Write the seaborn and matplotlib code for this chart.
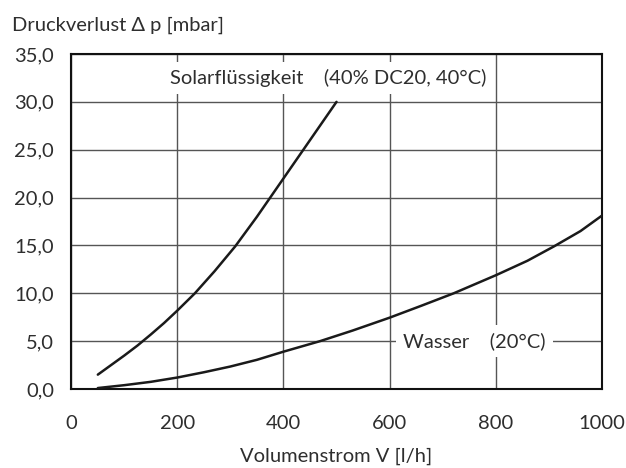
import matplotlib
matplotlib.use("Agg")
import matplotlib.pyplot as plt
import seaborn as sns
import pandas as pd

# flow rate [l/h] vs pressure drop [mbar]
solar_x = [50, 75, 100, 125, 150, 175, 200, 233, 270, 309, 350, 400, 450, 500]
solar_y = [1.5, 2.5, 3.5, 4.55, 5.7, 6.9, 8.2, 10.0, 12.3, 14.9, 18.0, 22.0, 26.0, 30.0]
water_x = [50, 100, 150, 200, 250, 300, 350, 400, 469, 530, 600, 660, 721, 801, 860, 910, 960, 1000]
water_y = [0.1, 0.4, 0.75, 1.2, 1.75, 2.35, 3.05, 3.9, 5.0, 6.1, 7.45, 8.7, 10.0, 11.9, 13.4, 14.9, 16.5, 18.1]

x_ticks = [0, 200, 400, 600, 800, 1000]
y_ticks = [0, 5, 10, 15, 20, 25, 30, 35]
y_ticklabels = ["0,0", "5,0", "10,0", "15,0", "20,0", "25,0", "30,0", "35,0"]

sns.set_theme(style="white")
plt.rcParams['font.family'] = ['Lato', 'DejaVu Sans']
txt = "#2e2e2e"
fs = 14.5

fig = plt.figure(figsize=(6.26, 4.68), dpi=100)
ax = fig.add_axes([0.1139, 0.1688, 0.8473, 0.7158])

df = pd.concat([
    pd.DataFrame({"x": solar_x, "y": solar_y, "serie": "solar"}),
    pd.DataFrame({"x": water_x, "y": water_y, "serie": "wasser"}),
])
sns.lineplot(data=df, x="x", y="y", units="serie", estimator=None,
             color="#1a1a1a", lw=1.8, ax=ax, zorder=3)

ax.set_xlim(0, 1000)
ax.set_ylim(0, 35)
ax.set_xticks(x_ticks)
ax.set_yticks(y_ticks)
ax.set_yticklabels(y_ticklabels)
ax.grid(True, color="#555555", lw=1.0)
ax.set_axisbelow(True)
for s in ax.spines.values():
    s.set_color("#111111")
    s.set_linewidth(1.5)
ax.tick_params(axis="both", direction="out", length=4.5, width=1, color="#333333",
               labelsize=fs, labelcolor=txt)
ax.tick_params(axis="x", pad=14)
ax.tick_params(axis="y", pad=8)
ax.set_xlabel("")
ax.set_ylabel("")

box = dict(facecolor="white", edgecolor="none", pad=5)
ax.text(186, 32.5, "Solarflüssigkeit    (40% DC20, 40°C)", ha="left", va="center",
        fontsize=fs, color=txt, bbox=box, zorder=4)
ax.text(626, 5.0, "Wasser    (20°C)", ha="left", va="center",
        fontsize=fs, color=txt, bbox=box, zorder=4)

fig.text(0.019, 0.946, "Druckverlust \u0394 p [mbar]", ha="left", va="center",
         fontsize=fs, color=txt)
fig.text(0.537, 0.024, "Volumenstrom V [l/h]", ha="center", va="center",
         fontsize=fs, color=txt)

fig.savefig("out.png", dpi=100)
